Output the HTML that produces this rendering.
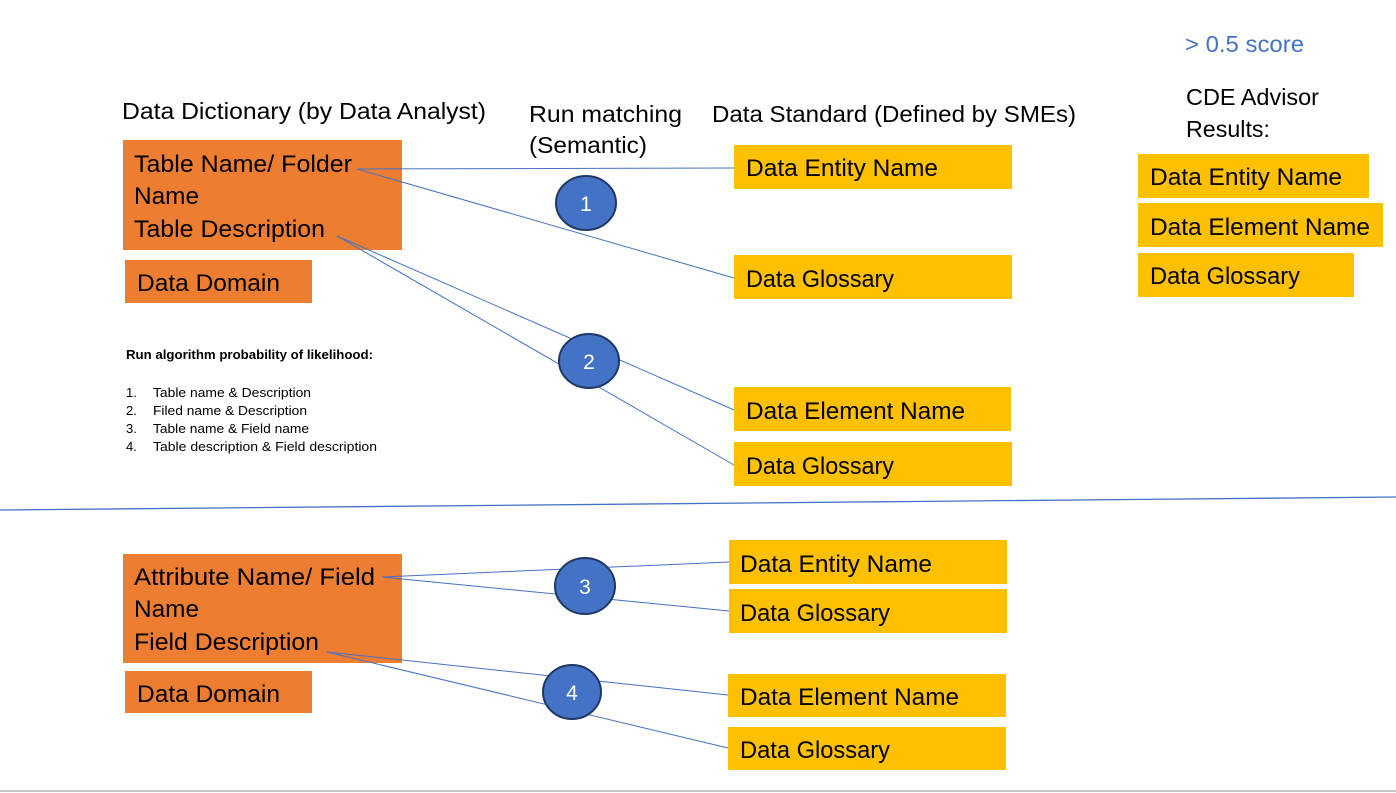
<!DOCTYPE html>
<html><head><style>
body{margin:0;background:#fff;}
svg{display:block;font-family:"Liberation Sans",sans-serif;}
</style></head><body>
<svg width="1396" height="793" viewBox="0 0 1396 793">
<rect width="1396" height="793" fill="#fff"/>
<g fill="#ED7D31">
<rect x="123" y="140" width="279" height="110"/>
<rect x="125" y="260" width="187" height="43"/>
<rect x="123" y="554" width="279" height="109"/>
<rect x="125" y="671" width="187" height="42"/>
</g>
<g fill="#FFC000">
<rect x="734" y="145" width="278" height="44"/>
<rect x="734" y="255" width="278" height="44"/>
<rect x="734" y="387" width="277" height="44"/>
<rect x="734" y="442" width="278" height="44"/>
<rect x="1138" y="154" width="231" height="44"/>
<rect x="1138" y="203" width="245" height="44"/>
<rect x="1138" y="253" width="216" height="44"/>
<rect x="729" y="540" width="278" height="44"/>
<rect x="729" y="589" width="278" height="44"/>
<rect x="728" y="674" width="278" height="43"/>
<rect x="728" y="727" width="278" height="43"/>
</g>
<g stroke="#4472C4" stroke-width="1" fill="none">
<line x1="357" y1="169" x2="734" y2="168"/>
<line x1="357" y1="169" x2="734" y2="278"/>
<line x1="337" y1="236" x2="734" y2="410"/>
<line x1="337" y1="236" x2="734" y2="465"/>
<line x1="0" y1="510" x2="1396" y2="497" stroke-width="1.3"/>
<line x1="382" y1="577" x2="729" y2="562"/>
<line x1="382" y1="577" x2="729" y2="611"/>
<line x1="327" y1="652" x2="728" y2="695"/>
<line x1="327" y1="652" x2="728" y2="748"/>
</g>
<line x1="0" y1="791" x2="1396" y2="791" stroke="#c8c8c8" stroke-width="2"/>
<g fill="#4472C4" stroke="#1F3864" stroke-width="2">
<ellipse cx="586" cy="203" rx="30" ry="27"/>
<ellipse cx="589" cy="361" rx="30" ry="27"/>
<ellipse cx="585" cy="586" rx="30" ry="28"/>
<ellipse cx="572" cy="692" rx="29" ry="27"/>
</g>
<g fill="#fff" font-size="21" text-anchor="middle">
<text x="586" y="211">1</text>
<text x="589" y="369">2</text>
<text x="585" y="594">3</text>
<text x="572" y="700">4</text>
</g>
<g fill="#000" font-size="23" lengthAdjust="spacingAndGlyphs">
<text x="122" y="119" textLength="364" lengthAdjust="spacingAndGlyphs">Data Dictionary (by Data Analyst)</text>
<text x="529" y="122" textLength="153" lengthAdjust="spacingAndGlyphs">Run matching</text>
<text x="529" y="153" textLength="118" lengthAdjust="spacingAndGlyphs">(Semantic)</text>
<text x="712" y="122" textLength="364" lengthAdjust="spacingAndGlyphs">Data Standard (Defined by SMEs)</text>
<text x="1186" y="105" textLength="133" lengthAdjust="spacingAndGlyphs">CDE Advisor</text>
<text x="1186" y="137" textLength="84" lengthAdjust="spacingAndGlyphs">Results:</text>
</g>
<text x="1185" y="52" fill="#4472C4" font-size="23" textLength="119" lengthAdjust="spacingAndGlyphs">&gt; 0.5 score</text>
<g fill="#000" font-size="24">
<text x="134" y="172" textLength="218" lengthAdjust="spacingAndGlyphs">Table Name/ Folder</text>
<text x="134" y="204" textLength="65" lengthAdjust="spacingAndGlyphs">Name</text>
<text x="134" y="237" textLength="191" lengthAdjust="spacingAndGlyphs">Table Description</text>
<text x="137" y="291" textLength="143" lengthAdjust="spacingAndGlyphs">Data Domain</text>
<text x="134" y="585" textLength="241" lengthAdjust="spacingAndGlyphs">Attribute Name/ Field</text>
<text x="134" y="617" textLength="65" lengthAdjust="spacingAndGlyphs">Name</text>
<text x="134" y="650" textLength="185" lengthAdjust="spacingAndGlyphs">Field Description</text>
<text x="137" y="702" textLength="143" lengthAdjust="spacingAndGlyphs">Data Domain</text>
<text x="746" y="176" textLength="192" lengthAdjust="spacingAndGlyphs">Data Entity Name</text>
<text x="746" y="287" textLength="148" lengthAdjust="spacingAndGlyphs">Data Glossary</text>
<text x="746" y="419" textLength="219" lengthAdjust="spacingAndGlyphs">Data Element Name</text>
<text x="746" y="474" textLength="148" lengthAdjust="spacingAndGlyphs">Data Glossary</text>
<text x="1150" y="185" textLength="192" lengthAdjust="spacingAndGlyphs">Data Entity Name</text>
<text x="1150" y="235" textLength="220" lengthAdjust="spacingAndGlyphs">Data Element Name</text>
<text x="1150" y="284" textLength="150" lengthAdjust="spacingAndGlyphs">Data Glossary</text>
<text x="740" y="572" textLength="192" lengthAdjust="spacingAndGlyphs">Data Entity Name</text>
<text x="740" y="621" textLength="150" lengthAdjust="spacingAndGlyphs">Data Glossary</text>
<text x="740" y="705" textLength="219" lengthAdjust="spacingAndGlyphs">Data Element Name</text>
<text x="740" y="758" textLength="150" lengthAdjust="spacingAndGlyphs">Data Glossary</text>
</g>
<g fill="#000" font-size="13">
<text x="126" y="359" font-weight="bold" textLength="247" lengthAdjust="spacingAndGlyphs">Run algorithm probability of likelihood:</text>
<text x="126" y="397">1.</text><text x="153" y="397" textLength="158" lengthAdjust="spacingAndGlyphs">Table name &amp; Description</text>
<text x="126" y="415">2.</text><text x="153" y="415" textLength="154" lengthAdjust="spacingAndGlyphs">Filed name &amp; Description</text>
<text x="126" y="433">3.</text><text x="153" y="433" textLength="156" lengthAdjust="spacingAndGlyphs">Table name &amp; Field name</text>
<text x="126" y="451">4.</text><text x="153" y="451" textLength="224" lengthAdjust="spacingAndGlyphs">Table description &amp; Field description</text>
</g>
</svg>
</body></html>
